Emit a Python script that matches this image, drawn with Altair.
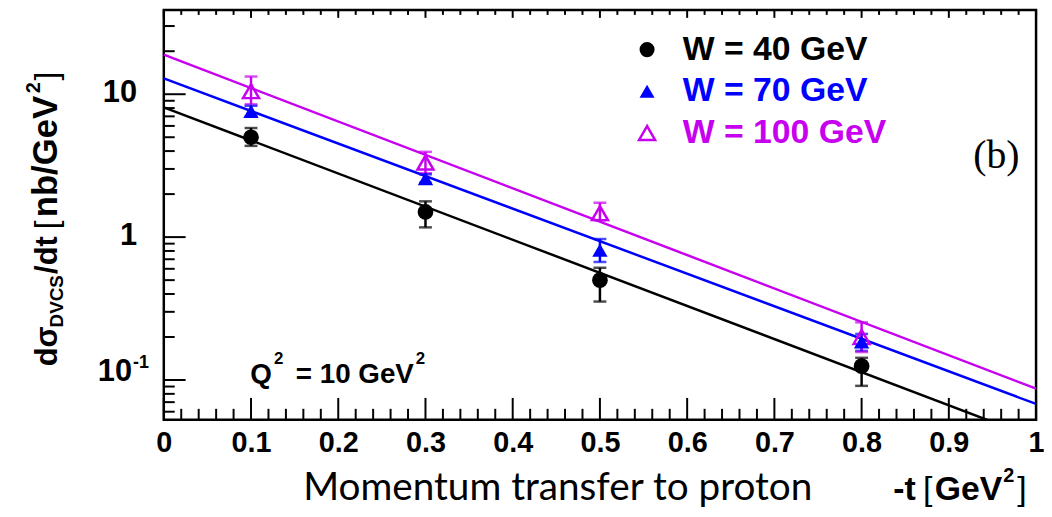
import altair as alt
import pandas as pd

# ---------------- data ----------------
t_vals = [0.1, 0.3, 0.5, 0.8]

w40_val = [5.0, 1.50, 0.50, 0.125]
w40_lo = [4.35, 1.17, 0.354, 0.091]
w40_hi = [5.8, 1.78, 0.61, 0.143]

w70_val = [7.6, 2.57, 0.81, 0.185]
w70_lo = [7.0, 2.40, 0.67, 0.160]
w70_hi = [8.3, 2.75, 0.97, 0.210]

w100_val = [10.5, 3.32, 1.47, 0.200]
w100_lo = [8.5, 2.80, 1.31, 0.157]
w100_hi = [13.3, 3.95, 1.74, 0.253]

fit_t = [0.0, 1.0]
fit_w40 = [8.1, 0.039]
fit_w70 = [12.9, 0.068]
fit_w100 = [18.9, 0.087]

series_names = ["W = 40 GeV", "W = 70 GeV", "W = 100 GeV"]
series_colors = ["#000000", "#0000ff", "#c800f0"]

x_major_ticks = [0.0, 0.1, 0.2, 0.3, 0.4, 0.5, 0.6, 0.7, 0.8, 0.9, 1.0]
x_minor_ticks = [0.02, 0.04, 0.06, 0.08, 0.12, 0.14, 0.16, 0.18,
                 0.22, 0.24, 0.26, 0.28, 0.32, 0.34, 0.36, 0.38,
                 0.42, 0.44, 0.46, 0.48, 0.52, 0.54, 0.56, 0.58,
                 0.62, 0.64, 0.66, 0.68, 0.72, 0.74, 0.76, 0.78,
                 0.82, 0.84, 0.86, 0.88, 0.92, 0.94, 0.96, 0.98]
y_major_ticks = [0.1, 1.0, 10.0]
y_minor_ticks = [0.06, 0.07, 0.08, 0.09,
                 0.2, 0.3, 0.4, 0.5, 0.6, 0.7, 0.8, 0.9,
                 2, 3, 4, 5, 6, 7, 8, 9, 20, 30]
y_label_main = [10.0, 1.0]
y_label_main_text = ["10", "1"]
y_label_exp_value = [0.1]

# ---------------- tables ----------------
pts = []
for name, v, lo, hi in zip(series_names,
                           [w40_val, w70_val, w100_val],
                           [w40_lo, w70_lo, w100_lo],
                           [w40_hi, w70_hi, w100_hi]):
    for t, a, b, c in zip(t_vals, v, lo, hi):
        pts.append({"series": name, "t": t, "val": a, "lo": b, "hi": c})
pts = pd.DataFrame(pts)

fits = []
for name, f in zip(series_names, [fit_w40, fit_w70, fit_w100]):
    for t, v in zip(fit_t, f):
        fits.append({"series": name, "t": t, "val": v})
fits = pd.DataFrame(fits)

W, H = 879, 413
FONT = "Liberation Sans"

xscale = alt.Scale(domain=[0, 1], nice=False, zero=False)
yscale = alt.Scale(type="log", domain=[0.0527, 38.9], nice=False)
xaxis = alt.Axis(values=x_major_ticks, format="~g", labelFont=FONT,
                 labelFontSize=29, labelFontWeight="bold", labelColor="black",
                 ticks=False, domain=False, grid=False, labelPadding=9,
                 labelFlush=False, labelOverlap=False, title=None)
color = alt.Color("series:N", scale=alt.Scale(domain=series_names, range=series_colors),
                  legend=None)

X = alt.X("t:Q", scale=xscale, axis=xaxis)

lines = alt.Chart(fits).mark_line(clip=True, strokeWidth=2.5).encode(
    x=X, y=alt.Y("val:Q", scale=yscale, axis=None), color=color, detail="series:N")

errs = alt.Chart(pts).mark_rule(strokeWidth=2.5).encode(
    x=X, y=alt.Y("lo:Q", scale=yscale, axis=None), y2="hi:Q", color=color)
caps_lo = alt.Chart(pts).mark_tick(orient="horizontal", size=13, thickness=2.5).encode(
    x=X, y=alt.Y("lo:Q", scale=yscale, axis=None), color=color)
caps_hi = alt.Chart(pts).mark_tick(orient="horizontal", size=13, thickness=2.5).encode(
    x=X, y=alt.Y("hi:Q", scale=yscale, axis=None), color=color)

def series_pts(name, shape, filled, size, col):
    return alt.Chart(pts).transform_filter(alt.datum.series == name).mark_point(
        shape=shape, filled=filled, size=size, color=col, opacity=1,
        strokeWidth=2.5).encode(x=X, y=alt.Y("val:Q", scale=yscale, axis=None))

p40 = series_pts(series_names[0], "circle", True, 250, series_colors[0])
p100 = series_pts(series_names[2], "triangle-up", False, 260, series_colors[2])
p70 = series_pts(series_names[1], "triangle-up", True, 240, series_colors[1])

# ---------------- ticks (inside, ROOT style) ----------------
xt_major = pd.DataFrame({"t": x_major_ticks})
xt_minor = pd.DataFrame({"t": x_minor_ticks})
yt_major = pd.DataFrame({"v": y_major_ticks})
yt_minor = pd.DataFrame({"v": y_minor_ticks})

tick_layers = [
    alt.Chart(xt_major).mark_rule(strokeWidth=2, color="black").encode(
        x=X, y=alt.value(H), y2=alt.value(H - 22)),
    alt.Chart(xt_minor).mark_rule(strokeWidth=2, color="black").encode(
        x=X, y=alt.value(H), y2=alt.value(H - 11)),
    alt.Chart(xt_major).mark_rule(strokeWidth=2, color="black").encode(
        x=X, y=alt.value(0), y2=alt.value(8)),
    alt.Chart(xt_minor).mark_rule(strokeWidth=2, color="black").encode(
        x=X, y=alt.value(0), y2=alt.value(5)),
    alt.Chart(yt_major).mark_rule(strokeWidth=2, color="black").encode(
        y=alt.Y("v:Q", scale=yscale, axis=None), x=alt.value(0), x2=alt.value(22)),
    alt.Chart(yt_minor).mark_rule(strokeWidth=2, color="black").encode(
        y=alt.Y("v:Q", scale=yscale, axis=None), x=alt.value(0), x2=alt.value(11)),
]

# ---------------- y tick labels ----------------
ylab_main = alt.Chart(pd.DataFrame({"v": y_label_main, "s": y_label_main_text})).mark_text(
    font=FONT, fontSize=31, fontWeight="bold", align="right", baseline="middle",
    color="black", dy=-1).encode(
    y=alt.Y("v:Q", scale=yscale, axis=None), x=alt.value(-27), text="s:N")
ylab_exp_base = alt.Chart(pd.DataFrame({"v": y_label_exp_value})).mark_text(
    font=FONT, fontSize=31, fontWeight="bold", align="right", baseline="middle",
    color="black", dy=-8, text="10").encode(
    y=alt.Y("v:Q", scale=yscale, axis=None), x=alt.value(-32))
ylab_exp_sup = alt.Chart(pd.DataFrame({"v": y_label_exp_value})).mark_text(
    font=FONT, fontSize=18, fontWeight="bold", align="left", baseline="middle",
    color="black", dy=-17, text="-1").encode(
    y=alt.Y("v:Q", scale=yscale, axis=None), x=alt.value(-31))

# ---------------- free text ----------------
def txt(s, x, y, size, weight="bold", font=FONT, angle=0, align="left",
        baseline="alphabetic", col="black"):
    return alt.Chart(pd.DataFrame({"s": [s]})).mark_text(
        text=s, font=font, fontSize=size, fontWeight=weight, angle=angle,
        align=align, baseline=baseline, color=col).encode(
        x=alt.value(x), y=alt.value(y))

OX, OY = 165, 8  # screen position of plot origin

texts = []
# y title (rotated)
texts += [
    txt("dσ", 57 - OX, 359, 31, angle=270),
    txt("DVCS", 63 - OX, 320, 19, angle=270),
    txt("/dt", 57 - OX, 266, 31, angle=270),
    txt("[", 57 - OX, 221, 32, weight="normal", angle=270),
    txt("nb/GeV", 57 - OX, 209, 35, angle=270),
    txt("2", 40 - OX, 84, 20, angle=270),
    txt("]", 57 - OX, 71, 32, weight="normal", angle=270),
]
# x title
texts += [
    txt("Momentum transfer to proton", 562 - OX, 502 - OY, 39, weight="normal",
        font="Lato", align="center"),
    txt("-t", 900 - OX, 502 - OY, 34),
    txt("[", 930 - OX, 502 - OY, 34, weight="normal"),
    txt("GeV", 942 - OX, 502 - OY, 34),
    txt("2", 1011 - OX, 484 - OY, 20),
    txt("]", 1025 - OX, 502 - OY, 34, weight="normal"),
]
# Q^2 annotation
texts += [
    txt("Q", 252 - OX, 384 - OY, 28),
    txt("2", 276 - OX, 365 - OY, 17),
    txt("= 10 GeV", 298 - OX, 384 - OY, 28),
    txt("2", 419 - OX, 365 - OY, 17),
]
# (b)
texts += [txt("(b)", 1004 - OX, 167 - OY, 40, weight="normal",
              font="Liberation Serif", align="center")]

# legend
leg_y = [48, 90, 132]
leg_layers = []
mk = [("circle", True, 230), ("triangle-up", True, 230), ("triangle-up", False, 260)]
for name, col, (shape, filled, size), ly in zip(series_names, series_colors, mk, leg_y):
    leg_layers.append(
        alt.Chart(pd.DataFrame({"s": [name]})).mark_point(
            shape=shape, filled=filled, size=size, color=col, opacity=1,
            strokeWidth=2.5).encode(x=alt.value(652 - OX), y=alt.value(ly - OY)))
    leg_layers.append(txt(name, 688 - OX, ly - OY, 34, baseline="middle", col=col))

chart = alt.layer(
    lines, errs, caps_lo, caps_hi, p40, p100, p70,
    *tick_layers, ylab_main, ylab_exp_base, ylab_exp_sup, *texts, *leg_layers
).properties(
    width=W, height=H,
    autosize=alt.AutoSizeParams(type="none"),
    padding={"left": 157, "top": 0, "right": 8, "bottom": 88},
    background="white",
).configure_view(stroke="black", strokeWidth=2.5)

chart.save("out.html", embed_options={"renderer": "svg", "actions": False})
